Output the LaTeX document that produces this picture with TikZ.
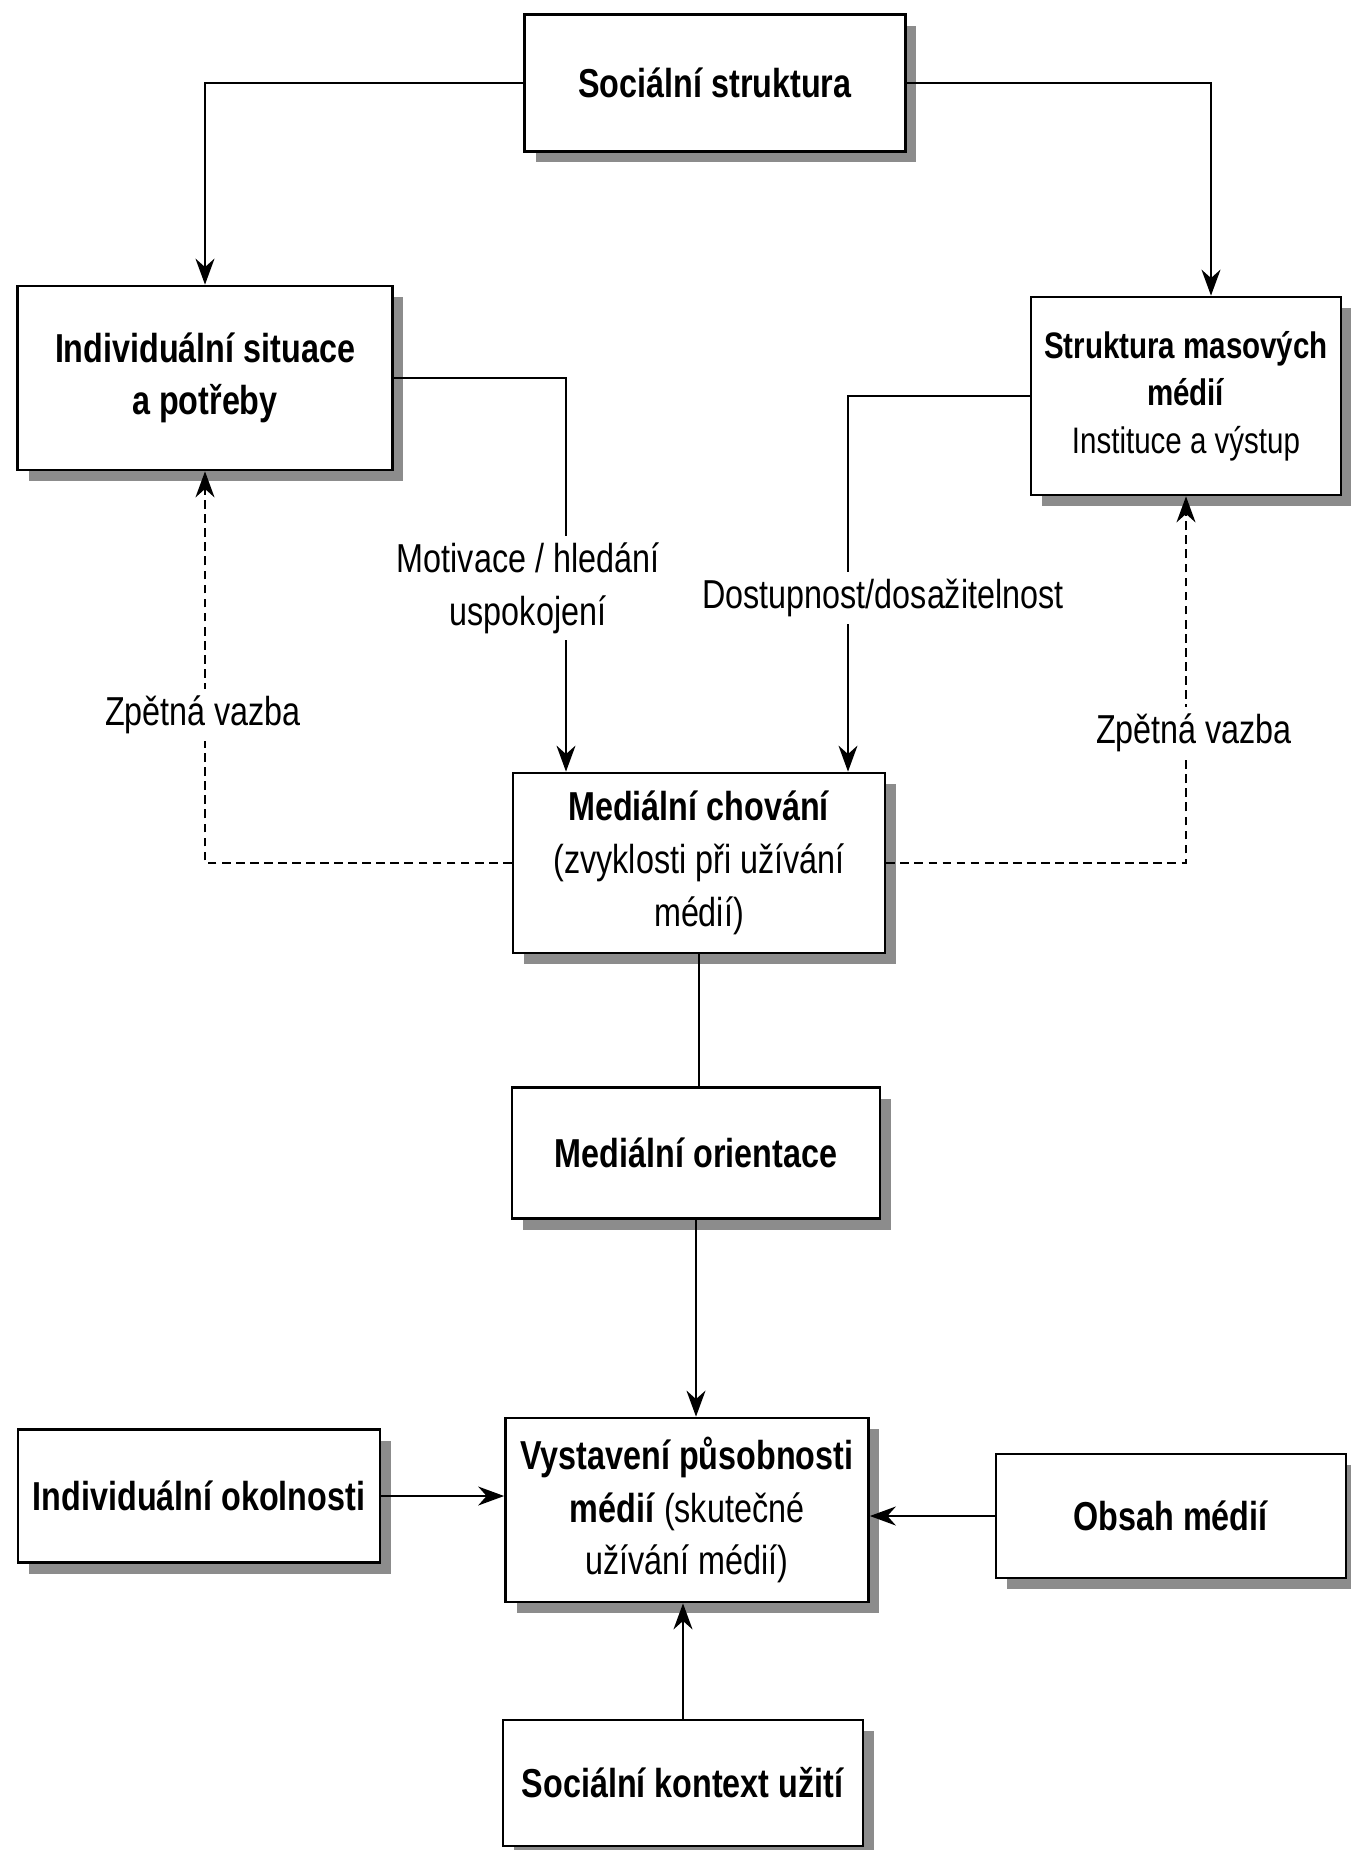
\documentclass[tikz,border=0pt]{standalone}
\usepackage{fontspec}
\setmainfont{Liberation Sans}[FakeStretch=0.8]
\usetikzlibrary{arrows.meta,positioning,shadows}

\begin{document}
\begin{tikzpicture}[x=0.02cm, y=-0.02cm,
    box/.style={draw, line width=1.6pt, fill=white, align=center, inner sep=2pt,
                font=\fontsize{23}{30}\selectfont,
                drop shadow={shadow xshift=0.22cm, shadow yshift=-0.22cm,
                             opacity=1, fill=black!45}},
    link/.style={line width=1.1pt},
    arrowline/.style={link, -{Stealth[length=0.52cm, width=0.38cm]}},
    feedback/.style={arrowline, dash pattern=on 5pt off 3pt},
    lbl/.style={fill=white, align=center, inner sep=4pt,
                font=\fontsize{23}{30}\selectfont},
]
\useasboundingbox (0,0) rectangle (1351,1850);

% Boxes
\node[box, minimum width=7.62cm, minimum height=2.74cm] (soc) at (715,83)
    {\textbf{Sociální struktura}};
\node[box, minimum width=7.5cm, minimum height=3.68cm] (ind) at (205,378)
    {\textbf{Individuální situace}\\\textbf{a potřeby}};
\node[box, minimum width=6.2cm, minimum height=3.96cm,
      font=\fontsize{21}{27}\selectfont] (str) at (1186,396)
    {\textbf{Struktura masových}\\\textbf{médií}\\Instituce a výstup};
\node[box, minimum width=7.44cm, minimum height=3.6cm] (chov) at (699,863)
    {\textbf{Mediální chování}\\(zvyklosti při užívání\\médií)};
\node[box, minimum width=7.36cm, minimum height=2.62cm] (ori) at (696,1153)
    {\textbf{Mediální orientace}};
\node[box, minimum width=7.26cm, minimum height=3.68cm] (vyst) at (687,1510)
    {\textbf{Vystavení působnosti}\\\textbf{médií} (skutečné\\užívání médií)};
\node[box, minimum width=7.24cm, minimum height=2.66cm] (okol) at (199,1496)
    {\textbf{Individuální okolnosti}};
\node[box, minimum width=7.0cm, minimum height=2.48cm] (obs) at (1171,1516)
    {\textbf{Obsah médií}};
\node[box, minimum width=7.2cm, minimum height=2.52cm] (kon) at (683,1783)
    {\textbf{Sociální kontext užití}};

% Columns of the two inputs into Medialni chovani
\coordinate (motx) at (566,0);
\coordinate (dosx) at (848,0);

% Connectors
\draw[arrowline] (soc.west) -| (ind.north);
\draw[arrowline] (soc.east) -| ([xshift=0.5cm]str.north);
\draw[arrowline] (ind.east) -| (chov.north -| motx);
\draw[arrowline] (str.west) -| (chov.north -| dosx);
\draw[feedback] (chov.west) -| (ind.south);
\draw[feedback] (chov.east) -| (str.south);
\draw[link] (chov.south) -- (chov.south |- ori.north);
\draw[arrowline] (ori.south) -- (ori.south |- vyst.north);
\draw[arrowline] (okol.east) -- (okol.east -| vyst.west);
\draw[arrowline] (obs.west) -- (obs.west -| vyst.east);
\draw[arrowline] (kon.north) -- (kon.north |- vyst.south);

% Labels on the connectors
\node[lbl] (mot) at (528,588) {Motivace / hledání\\uspokojení};
\node[lbl] (dos) at (883,598) {Dostupnost/dosažitelnost};
\node[lbl] (zpl) at (203,715) {Zpětná vazba};
\node[lbl] (zpr) at (1194,733) {Zpětná vazba};
\end{tikzpicture}
\end{document}
